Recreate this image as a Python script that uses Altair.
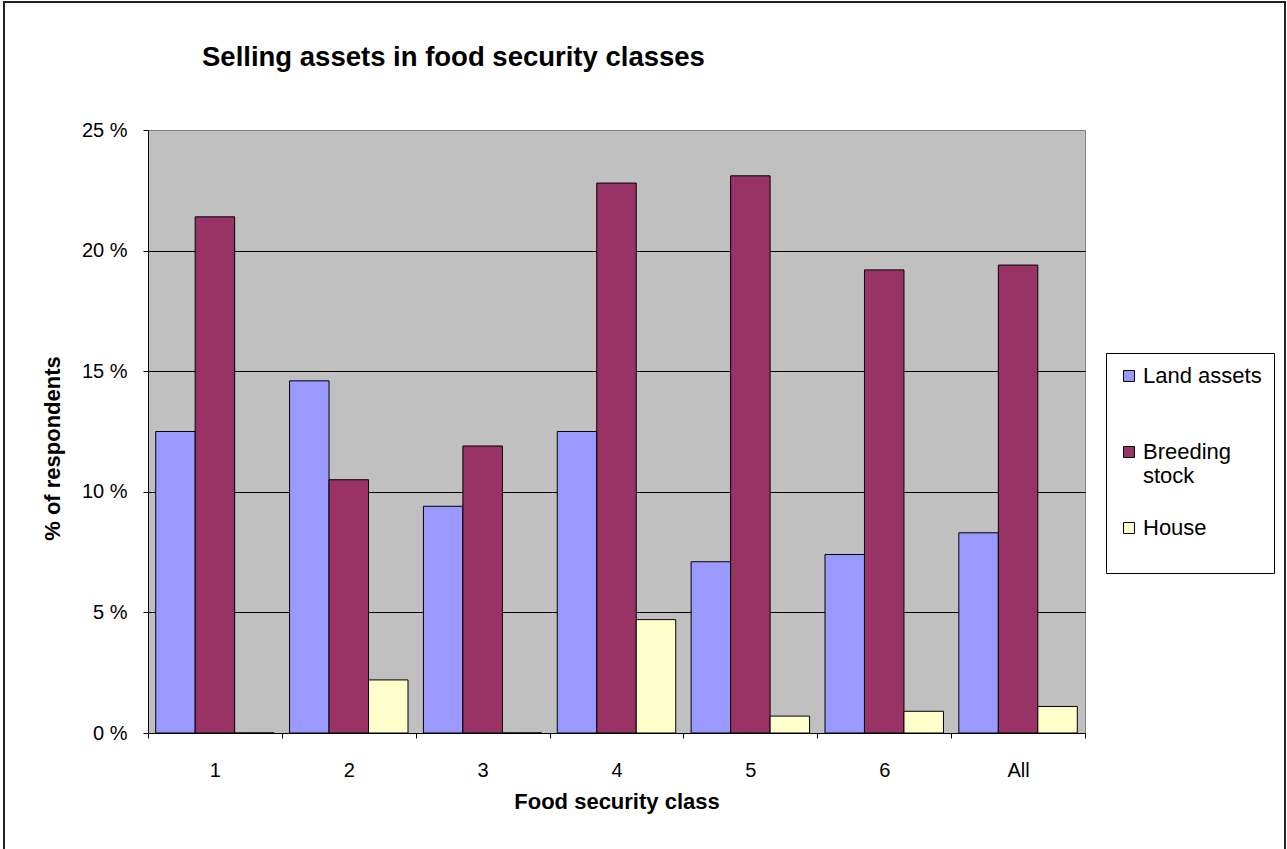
import altair as alt
import pandas as pd

classes = ["1", "2", "3", "4", "5", "6", "All"]
assets = ["Land assets", "Breeding stock", "House"]
land = [12.5, 14.6, 9.4, 12.5, 7.1, 7.4, 8.3]
breeding = [21.4, 10.5, 11.9, 22.8, 23.1, 19.2, 19.4]
house = [0.0, 2.2, 0.0, 4.7, 0.7, 0.9, 1.1]
colors = ["#9999FF", "#993366", "#FFFFCC"]
y_ticks = [0, 5, 10, 15, 20, 25]

rows = []
for name, series in zip(assets, [land, breeding, house]):
    for c, v in zip(classes, series):
        rows.append({"cls": c, "asset": name, "pct": v})
df = pd.DataFrame(rows)

FONT = "Liberation Sans"

# legend labels: wrap the long one, pad the first so the rows space evenly
legend_labels = (
    "datum.label == 'Breeding stock' ? ['Breeding', 'stock'] : "
    "datum.label == 'Land assets' ? ['Land assets', ''] : datum.label"
)

bars = (
    alt.Chart(df)
    .mark_bar(stroke="black", strokeWidth=1)
    .encode(
        x=alt.X(
            "cls:N",
            sort=classes,
            scale=alt.Scale(paddingInner=0, paddingOuter=0),
            axis=alt.Axis(
                title="Food security class",
                labelAngle=0,
                tickBand="extent",
                tickSize=5,
                tickColor="black",
                domainColor="black",
                labelPadding=22,
                labelFontSize=20,
                titleFontSize=22,
                titleFontWeight="bold",
                titleY=75,
                titleBaseline="alphabetic",
            ),
        ),
        xOffset=alt.XOffset(
            "asset:N", sort=assets, scale=alt.Scale(paddingOuter=0.195, paddingInner=0)
        ),
        y=alt.Y(
            "pct:Q",
            scale=alt.Scale(domain=[0, 25], nice=False),
            axis=alt.Axis(
                title="% of respondents",
                values=y_ticks,
                labelExpr="datum.value + ' %'",
                tickSize=5,
                tickColor="black",
                domainColor="black",
                labelPadding=16,
                labelFontSize=20,
                grid=True,
                gridColor={"condition": {"test": "datum.value >= 25", "value": "#808080"}, "value": "black"},
                gridOpacity=1,
                titleFontSize=22,
                titleFontWeight="bold",
                titleAngle=270,
                titleX=-96,
                titleY=318,
                titleAlign="center",
                titleBaseline="middle",
            ),
        ),
        color=alt.Color(
            "asset:N",
            sort=assets,
            scale=alt.Scale(domain=assets, range=colors),
            legend=alt.Legend(
                title=" ",
                titleOrient="bottom",
                titleFontSize=18,
                titlePadding=4,
                orient="none",
                legendX=958,
                legendY=223,
                padding=12,
                strokeColor="black",
                fillColor="white",
                symbolType="square",
                symbolSize=120,
                symbolStrokeColor="black",
                symbolStrokeWidth=1,
                symbolOpacity=1,
                labelFontSize=22,
                labelOffset=3,
                rowPadding=30,
                labelExpr=legend_labels,
            ),
        ),
    )
)

# Outer frame around the whole chart
frame = (
    alt.Chart(pd.DataFrame({"k": [0]}))
    .mark_rect(fill=None, stroke="#222222", strokeWidth=2)
    .encode(
        x=alt.value(-144),
        x2=alt.value(1137),
        y=alt.value(-128),
        y2=alt.value(760),
    )
)

chart = (
    alt.layer(bars, frame)
    .properties(
        width=937,
        height=603,
        padding={"left": 148, "top": 130, "right": 202, "bottom": 116},
        autosize=alt.AutoSizeParams(type="none"),
        title=alt.TitleParams(
            "Selling assets in food security classes",
            anchor="start",
            frame="group",
            dx=54,
            offset=-92,
            fontSize=27.5,
            fontWeight="bold",
            font=FONT,
            color="black",
            baseline="alphabetic",
        ),
    )
    .configure(font=FONT, background="white")
    .configure_view(fill="#C0C0C0", stroke="#808080", strokeWidth=1)
    .configure_axis(labelColor="black", titleColor="black", labelFont=FONT, titleFont=FONT)
    .configure_legend(labelColor="black", labelFont=FONT)
)

chart.save("out.html", embed_options={"renderer": "svg", "actions": False})
